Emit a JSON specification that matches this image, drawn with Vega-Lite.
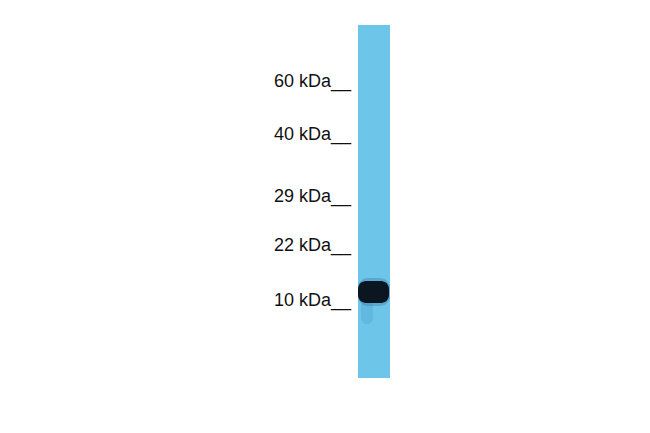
{
  "$schema": "https://vega.github.io/schema/vega-lite/v6.json",
  "width": 650,
  "height": 433,
  "autosize": {"type": "fit", "contains": "padding"},
  "padding": 0,
  "background": "white",
  "config": {"view": {"stroke": null}},
  "datasets": {
    "lane": [{"sample": "lysate", "left": 358, "right": 390, "top": 25, "bottom": 378}],
    "halo": [{"sample": "lysate", "left": 358, "right": 390, "top": 278, "bottom": 306}],
    "smear": [{"sample": "lysate", "left": 361, "right": 373, "top": 300, "bottom": 324}],
    "band": [{"sample": "lysate", "left": 358, "right": 389, "top": 281, "bottom": 303}],
    "markers": [
      {"kda": 60, "label": "60 kDa__", "migration": 86.5},
      {"kda": 40, "label": "40 kDa__", "migration": 140},
      {"kda": 29, "label": "29 kDa__", "migration": 201.5},
      {"kda": 22, "label": "22 kDa__", "migration": 251},
      {"kda": 10, "label": "10 kDa__", "migration": 306}
    ]
  },
  "layer": [
    {
      "data": {"name": "lane"},
      "mark": {"type": "rect", "color": "#6ec5ea"},
      "encoding": {
        "x": {"field": "left", "type": "quantitative", "scale": {"domain": [0, 650], "nice": false, "zero": false}, "axis": null},
        "x2": {"field": "right"},
        "y": {"field": "top", "type": "quantitative", "scale": {"domain": [0, 433], "nice": false, "zero": false, "reverse": true}, "axis": null},
        "y2": {"field": "bottom"}
      }
    },
    {
      "data": {"name": "smear"},
      "mark": {"type": "rect", "color": "#4a9ccb", "opacity": 0.3, "cornerRadius": 6},
      "encoding": {
        "x": {"field": "left", "type": "quantitative"},
        "x2": {"field": "right"},
        "y": {"field": "top", "type": "quantitative"},
        "y2": {"field": "bottom"}
      }
    },
    {
      "data": {"name": "halo"},
      "mark": {"type": "rect", "color": "#2a6890", "opacity": 0.3, "cornerRadius": 10},
      "encoding": {
        "x": {"field": "left", "type": "quantitative"},
        "x2": {"field": "right"},
        "y": {"field": "top", "type": "quantitative"},
        "y2": {"field": "bottom"}
      }
    },
    {
      "data": {"name": "band"},
      "mark": {"type": "rect", "color": "#0c1620", "cornerRadius": 8},
      "encoding": {
        "x": {"field": "left", "type": "quantitative"},
        "x2": {"field": "right"},
        "y": {"field": "top", "type": "quantitative"},
        "y2": {"field": "bottom"}
      }
    },
    {
      "data": {"name": "markers"},
      "mark": {"type": "text", "align": "right", "baseline": "alphabetic", "font": "Liberation Sans", "fontSize": 18, "color": "#111111"},
      "encoding": {
        "x": {"datum": 351, "type": "quantitative"},
        "y": {"field": "migration", "type": "quantitative"},
        "text": {"field": "label"}
      }
    }
  ]
}
